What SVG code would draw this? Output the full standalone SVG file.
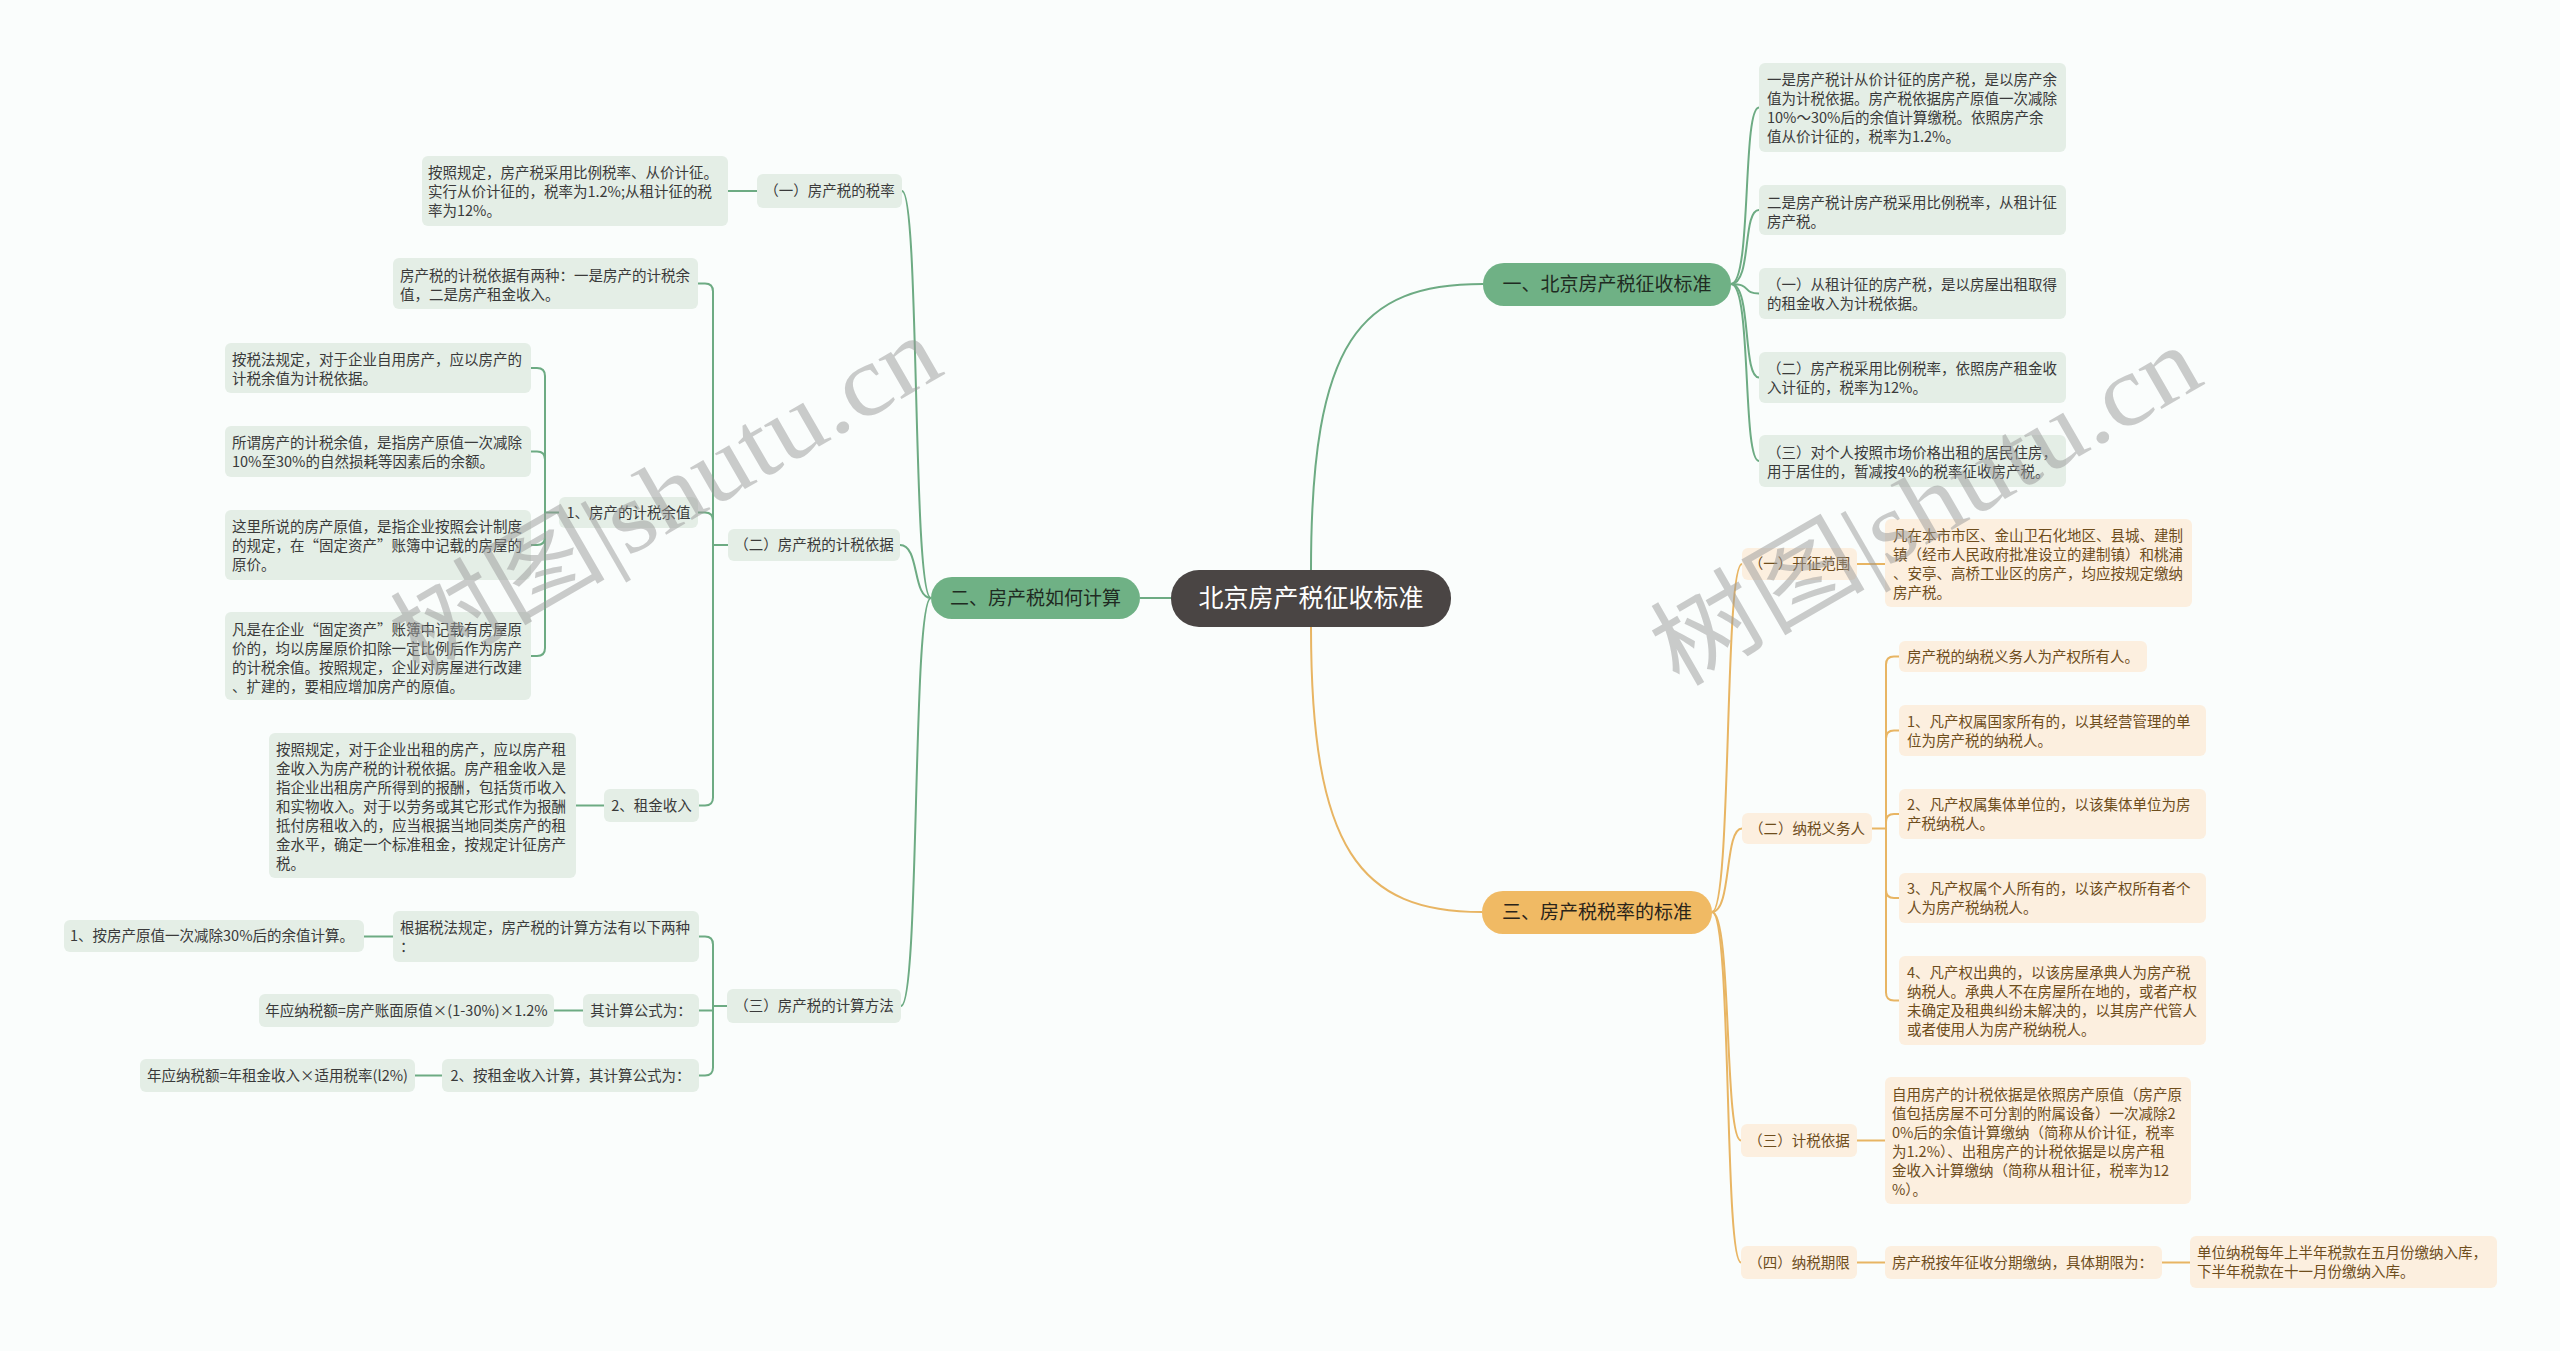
<svg xmlns="http://www.w3.org/2000/svg" width="2560" height="1351" viewBox="0 0 2560 1351">
<style>
.t{font-family:"Noto Sans CJK SC","Noto Sans",sans-serif;font-size:14.5px}
.gt{fill:#3a3a3a}
.ot{fill:#6e4d1c}
.gb{fill:#e4eee6}
.ob{fill:#fcefdf}
.gl{fill:none;stroke:#6dab83;stroke-width:2}
.ol{fill:none;stroke:#e8b563;stroke-width:2}
.m{text-anchor:middle}
.l1{font-family:"Noto Sans CJK SC","Noto Sans",sans-serif;font-size:19px;fill:#1f2b22;text-anchor:middle}
.wm{font-family:"Liberation Serif","Noto Sans CJK SC",serif;font-size:100px;fill:#9a9a9a;opacity:0.5;text-anchor:middle}
</style>
<rect x="0" y="0" width="2560" height="1351" fill="#fafdfc"/>

<g id="connectors">
  <!-- root to level 1 -->
  <path class="gl" d="M1171,598 L1140,598"/>
  <path class="gl" d="M1311,570 C1311,340 1360,284 1483,284"/>
  <path class="ol" d="M1311,627 C1311,850 1360,912 1482,912"/>
  <!-- 一 to children -->
  <path class="gl" d="M1731,284 C1752,284 1742,107.5 1759,107.5"/>
  <path class="gl" d="M1731,284 C1752,284 1742,210 1759,210"/>
  <path class="gl" d="M1731,284 C1752,284 1742,293.5 1759,293.5"/>
  <path class="gl" d="M1731,284 C1752,284 1742,377.5 1759,377.5"/>
  <path class="gl" d="M1731,284 C1752,284 1742,461 1759,461"/>
  <!-- 二 to children -->
  <path class="gl" d="M931,598 C912,598 920,191 902,191"/>
  <path class="gl" d="M931,598 C912,598 920,545 900,545"/>
  <path class="gl" d="M931,598 C912,598 920,1006 901,1006"/>
  <!-- (一) -->
  <path class="gl" d="M757,191 L728,191"/>
  <!-- (二) bracket -->
  <path class="gl" d="M728,545 L713,545 L713,291.5 Q713,283.5 705,283.5 L698,283.5"/>
  <path class="gl" d="M713,545 L713,520.5 Q713,512.5 705,512.5 L698,512.5"/>
  <path class="gl" d="M713,545 L713,797.5 Q713,805.5 705,805.5 L699,805.5"/>
  <!-- 1、 bracket -->
  <path class="gl" d="M559,512.5 L545,512.5 L545,376 Q545,368 537,368 L531,368"/>
  <path class="gl" d="M545,512.5 L545,459.5 Q545,451.5 537,451.5 L531,451.5"/>
  <path class="gl" d="M545,512.5 L545,537 Q545,545 537,545 L531,545"/>
  <path class="gl" d="M545,512.5 L545,648 Q545,656 537,656 L531,656"/>
  <path class="gl" d="M604,805.5 L576,805.5"/>
  <!-- (三) bracket -->
  <path class="gl" d="M727,1006 L713,1006 L713,944.5 Q713,936.5 705,936.5 L699,936.5"/>
  <path class="gl" d="M713,1006 L713,1010.5 L699,1010.5"/>
  <path class="gl" d="M713,1006 L713,1067.5 Q713,1075.5 705,1075.5 L699,1075.5"/>
  <path class="gl" d="M393,936.5 L364,936.5"/>
  <path class="gl" d="M583,1010.5 L554,1010.5"/>
  <path class="gl" d="M442,1075.5 L415,1075.5"/>
  <!-- 三 to children -->
  <path class="ol" d="M1712,912 C1732,912 1724,564 1742,564"/>
  <path class="ol" d="M1712,912 C1732,912 1724,828.5 1742,828.5"/>
  <path class="ol" d="M1712,912 C1732,912 1724,1140.5 1741,1140.5"/>
  <path class="ol" d="M1712,912 C1732,912 1724,1262.5 1741,1262.5"/>
  <path class="ol" d="M1857,564 L1885,564"/>
  <!-- (二)纳税义务人 bracket -->
  <path class="ol" d="M1872,828.5 L1886,828.5 L1886,664.5 Q1886,656.5 1894,656.5 L1899,656.5"/>
  <path class="ol" d="M1886,828.5 L1886,738.5 Q1886,730.5 1894,730.5 L1899,730.5"/>
  <path class="ol" d="M1886,828.5 L1886,822 Q1886,814 1894,814 L1899,814"/>
  <path class="ol" d="M1886,828.5 L1886,890 Q1886,898 1894,898 L1899,898"/>
  <path class="ol" d="M1886,828.5 L1886,992.5 Q1886,1000.5 1894,1000.5 L1899,1000.5"/>
  <path class="ol" d="M1857,1140.5 L1885,1140.5"/>
  <path class="ol" d="M1857,1262.5 L1885,1262.5"/>
  <path class="ol" d="M2162,1262.5 L2190,1262.5"/>
</g>

<g id="root">
  <rect x="1171" y="570" width="280" height="57" rx="28" fill="#4a4544"/>
  <text x="1311" y="607" style="font-family:'Noto Sans CJK SC',sans-serif;font-size:25px;fill:#ffffff;text-anchor:middle">北京房产税征收标准</text>
</g>

<g id="n1">
  <rect x="1483" y="263" width="248" height="43" rx="21" fill="#6fb185"/>
  <text class="l1" x="1607" y="291">一、北京房产税征收标准</text>
</g>
<g id="n2">
  <rect x="931" y="577" width="209" height="42" rx="21" fill="#6fb185"/>
  <text class="l1" x="1035.5" y="605">二、房产税如何计算</text>
</g>
<g id="n3">
  <rect x="1482" y="891" width="230" height="43" rx="21" fill="#f0ba64"/>
  <text class="l1" x="1597" y="919" style="fill:#2a241a">三、房产税税率的标准</text>
</g>

<!-- right green leaves -->
<g id="n1-1">
  <rect class="gb" x="1759" y="63" width="307" height="89" rx="6"/>
  <text class="t gt" x="1767" y="85">一是房产税计从价计征的房产税，是以房产余</text>
  <text class="t gt" x="1767" y="104">值为计税依据。房产税依据房产原值一次减除</text>
  <text class="t gt" x="1767" y="123">10%～30%后的余值计算缴税。依照房产余</text>
  <text class="t gt" x="1767" y="142">值从价计征的，税率为1.2%。</text>
</g>
<g id="n1-2">
  <rect class="gb" x="1759" y="185" width="307" height="50" rx="6"/>
  <text class="t gt" x="1767" y="208">二是房产税计房产税采用比例税率，从租计征</text>
  <text class="t gt" x="1767" y="227">房产税。</text>
</g>
<g id="n1-3">
  <rect class="gb" x="1759" y="268" width="307" height="51" rx="6"/>
  <text class="t gt" x="1767" y="290">（一）从租计征的房产税，是以房屋出租取得</text>
  <text class="t gt" x="1767" y="309">的租金收入为计税依据。</text>
</g>
<g id="n1-4">
  <rect class="gb" x="1759" y="352" width="307" height="51" rx="6"/>
  <text class="t gt" x="1767" y="374">（二）房产税采用比例税率，依照房产租金收</text>
  <text class="t gt" x="1767" y="393">入计征的，税率为12%。</text>
</g>
<g id="n1-5">
  <rect class="gb" x="1759" y="435" width="307" height="52" rx="6"/>
  <text class="t gt" x="1767" y="458">（三）对个人按照市场价格出租的居民住房，</text>
  <text class="t gt" x="1767" y="477">用于居住的，暂减按4%的税率征收房产税。</text>
</g>

<!-- left green -->
<g id="n2-1">
  <rect class="gb" x="757" y="174" width="145" height="34" rx="6"/>
  <text class="t gt m" x="829.5" y="196">（一）房产税的税率</text>
</g>
<g id="n2-1-1">
  <rect class="gb" x="422" y="156" width="306" height="70" rx="6"/>
  <text class="t gt" x="428" y="178">按照规定，房产税采用比例税率、从价计征。</text>
  <text class="t gt" x="428" y="197">实行从价计征的，税率为1.2%;从租计征的税</text>
  <text class="t gt" x="428" y="216">率为12%。</text>
</g>
<g id="n2-2">
  <rect class="gb" x="728" y="529" width="172" height="32" rx="6"/>
  <text class="t gt m" x="814" y="550">（二）房产税的计税依据</text>
</g>
<g id="n2-2-1">
  <rect class="gb" x="393" y="258" width="305" height="51" rx="6"/>
  <text class="t gt" x="400" y="281">房产税的计税依据有两种：一是房产的计税余</text>
  <text class="t gt" x="400" y="300">值，二是房产租金收入。</text>
</g>
<g id="n2-2-2">
  <rect class="gb" x="559" y="497" width="139" height="31" rx="6"/>
  <text class="t gt m" x="628.5" y="517.5">1、房产的计税余值</text>
</g>
<g id="n2-2-2-1">
  <rect class="gb" x="225" y="343" width="306" height="50" rx="6"/>
  <text class="t gt" x="232" y="365">按税法规定，对于企业自用房产，应以房产的</text>
  <text class="t gt" x="232" y="384">计税余值为计税依据。</text>
</g>
<g id="n2-2-2-2">
  <rect class="gb" x="225" y="426" width="306" height="51" rx="6"/>
  <text class="t gt" x="232" y="448">所谓房产的计税余值，是指房产原值一次减除</text>
  <text class="t gt" x="232" y="467">10%至30%的自然损耗等因素后的余额。</text>
</g>
<g id="n2-2-2-3">
  <rect class="gb" x="225" y="510" width="306" height="70" rx="6"/>
  <text class="t gt" x="232" y="532">这里所说的房产原值，是指企业按照会计制度</text>
  <text class="t gt" x="232" y="551">的规定，在“固定资产”账簿中记载的房屋的</text>
  <text class="t gt" x="232" y="570">原价。</text>
</g>
<g id="n2-2-2-4">
  <rect class="gb" x="225" y="612" width="306" height="88" rx="6"/>
  <text class="t gt" x="232" y="635">凡是在企业“固定资产”账簿中记载有房屋原</text>
  <text class="t gt" x="232" y="654">价的，均以房屋原价扣除一定比例后作为房产</text>
  <text class="t gt" x="232" y="673">的计税余值。按照规定，企业对房屋进行改建</text>
  <text class="t gt" x="232" y="692">、扩建的，要相应增加房产的原值。</text>
</g>
<g id="n2-2-3">
  <rect class="gb" x="604" y="789" width="95" height="33" rx="6"/>
  <text class="t gt m" x="651.5" y="811">2、租金收入</text>
</g>
<g id="n2-2-3-1">
  <rect class="gb" x="269" y="733" width="307" height="145" rx="6"/>
  <text class="t gt" x="276" y="755">按照规定，对于企业出租的房产，应以房产租</text>
  <text class="t gt" x="276" y="774">金收入为房产税的计税依据。房产租金收入是</text>
  <text class="t gt" x="276" y="793">指企业出租房产所得到的报酬，包括货币收入</text>
  <text class="t gt" x="276" y="812">和实物收入。对于以劳务或其它形式作为报酬</text>
  <text class="t gt" x="276" y="831">抵付房租收入的，应当根据当地同类房产的租</text>
  <text class="t gt" x="276" y="850">金水平，确定一个标准租金，按规定计征房产</text>
  <text class="t gt" x="276" y="869">税。</text>
</g>
<g id="n2-3">
  <rect class="gb" x="727" y="989" width="174" height="34" rx="6"/>
  <text class="t gt m" x="814" y="1011">（三）房产税的计算方法</text>
</g>
<g id="n2-3-1">
  <rect class="gb" x="393" y="911" width="306" height="51" rx="6"/>
  <text class="t gt" x="400" y="933">根据税法规定，房产税的计算方法有以下两种</text>
  <text class="t gt" x="400" y="952">：</text>
</g>
<g id="n2-3-1-1">
  <rect class="gb" x="64" y="920" width="300" height="32" rx="6"/>
  <text class="t gt" x="70" y="941">1、按房产原值一次减除30%后的余值计算。</text>
</g>
<g id="n2-3-2">
  <rect class="gb" x="583" y="994" width="116" height="33" rx="6"/>
  <text class="t gt m" x="641" y="1015.5">其计算公式为：</text>
</g>
<g id="n2-3-2-1">
  <rect class="gb" x="259" y="994" width="295" height="33" rx="6"/>
  <text class="t gt m" x="406.5" y="1015.5">年应纳税额=房产账面原值×(1-30%)×1.2%</text>
</g>
<g id="n2-3-3">
  <rect class="gb" x="442" y="1059" width="257" height="33" rx="6"/>
  <text class="t gt m" x="570.5" y="1080.5">2、按租金收入计算，其计算公式为：</text>
</g>
<g id="n2-3-3-1">
  <rect class="gb" x="140" y="1059" width="275" height="33" rx="6"/>
  <text class="t gt m" x="277.5" y="1080.5">年应纳税额=年租金收入×适用税率(l2%)</text>
</g>

<!-- orange -->
<g id="n3-1">
  <rect class="ob" x="1742" y="548" width="115" height="32" rx="6"/>
  <text class="t ot m" x="1799.5" y="569">（一）开征范围</text>
</g>
<g id="n3-1-1">
  <rect class="ob" x="1885" y="519" width="307" height="88" rx="6"/>
  <text class="t ot" x="1893" y="541">凡在本市市区、金山卫石化地区、县城、建制</text>
  <text class="t ot" x="1893" y="560">镇（经市人民政府批准设立的建制镇）和桃浦</text>
  <text class="t ot" x="1893" y="579">、安亭、高桥工业区的房产，均应按规定缴纳</text>
  <text class="t ot" x="1893" y="598">房产税。</text>
</g>
<g id="n3-2">
  <rect class="ob" x="1742" y="813" width="130" height="31" rx="6"/>
  <text class="t ot m" x="1807" y="833.5">（二）纳税义务人</text>
</g>
<g id="n3-2-1">
  <rect class="ob" x="1899" y="641" width="248" height="31" rx="6"/>
  <text class="t ot" x="1907" y="661.5">房产税的纳税义务人为产权所有人。</text>
</g>
<g id="n3-2-2">
  <rect class="ob" x="1899" y="705" width="307" height="51" rx="6"/>
  <text class="t ot" x="1907" y="727">1、凡产权属国家所有的，以其经营管理的单</text>
  <text class="t ot" x="1907" y="746">位为房产税的纳税人。</text>
</g>
<g id="n3-2-3">
  <rect class="ob" x="1899" y="789" width="307" height="50" rx="6"/>
  <text class="t ot" x="1907" y="810">2、凡产权属集体单位的，以该集体单位为房</text>
  <text class="t ot" x="1907" y="829">产税纳税人。</text>
</g>
<g id="n3-2-4">
  <rect class="ob" x="1899" y="873" width="307" height="50" rx="6"/>
  <text class="t ot" x="1907" y="894">3、凡产权属个人所有的，以该产权所有者个</text>
  <text class="t ot" x="1907" y="913">人为房产税纳税人。</text>
</g>
<g id="n3-2-5">
  <rect class="ob" x="1899" y="956" width="307" height="89" rx="6"/>
  <text class="t ot" x="1907" y="978">4、凡产权出典的，以该房屋承典人为房产税</text>
  <text class="t ot" x="1907" y="997">纳税人。承典人不在房屋所在地的，或者产权</text>
  <text class="t ot" x="1907" y="1016">未确定及租典纠纷未解决的，以其房产代管人</text>
  <text class="t ot" x="1907" y="1035">或者使用人为房产税纳税人。</text>
</g>
<g id="n3-3">
  <rect class="ob" x="1741" y="1124" width="116" height="33" rx="6"/>
  <text class="t ot m" x="1799" y="1145.5">（三）计税依据</text>
</g>
<g id="n3-3-1">
  <rect class="ob" x="1885" y="1077" width="306" height="127" rx="6"/>
  <text class="t ot" x="1892" y="1100">自用房产的计税依据是依照房产原值（房产原</text>
  <text class="t ot" x="1892" y="1119">值包括房屋不可分割的附属设备）一次减除2</text>
  <text class="t ot" x="1892" y="1138">0%后的余值计算缴纳（简称从价计征，税率</text>
  <text class="t ot" x="1892" y="1157">为1.2%）、出租房产的计税依据是以房产租</text>
  <text class="t ot" x="1892" y="1176">金收入计算缴纳（简称从租计征，税率为12</text>
  <text class="t ot" x="1892" y="1195">%）。</text>
</g>
<g id="n3-4">
  <rect class="ob" x="1741" y="1246" width="116" height="33" rx="6"/>
  <text class="t ot m" x="1799" y="1267.5">（四）纳税期限</text>
</g>
<g id="n3-4-1">
  <rect class="ob" x="1885" y="1246" width="277" height="33" rx="6"/>
  <text class="t ot" x="1892" y="1267.5">房产税按年征收分期缴纳，具体期限为：</text>
</g>
<g id="n3-4-1-1">
  <rect class="ob" x="2190" y="1236" width="307" height="52" rx="6"/>
  <text class="t ot" x="2197" y="1258">单位纳税每年上半年税款在五月份缴纳入库，</text>
  <text class="t ot" x="2197" y="1277">下半年税款在十一月份缴纳入库。</text>
</g>

<g id="watermarks">
  <text class="wm" x="665" y="530" transform="rotate(-30 665 495)" textLength="610" lengthAdjust="spacingAndGlyphs">树图|shutu.cn</text>
  <text class="wm" x="1925" y="540" transform="rotate(-30 1925 505)" textLength="610" lengthAdjust="spacingAndGlyphs">树图|shutu.cn</text>
</g>
</svg>
